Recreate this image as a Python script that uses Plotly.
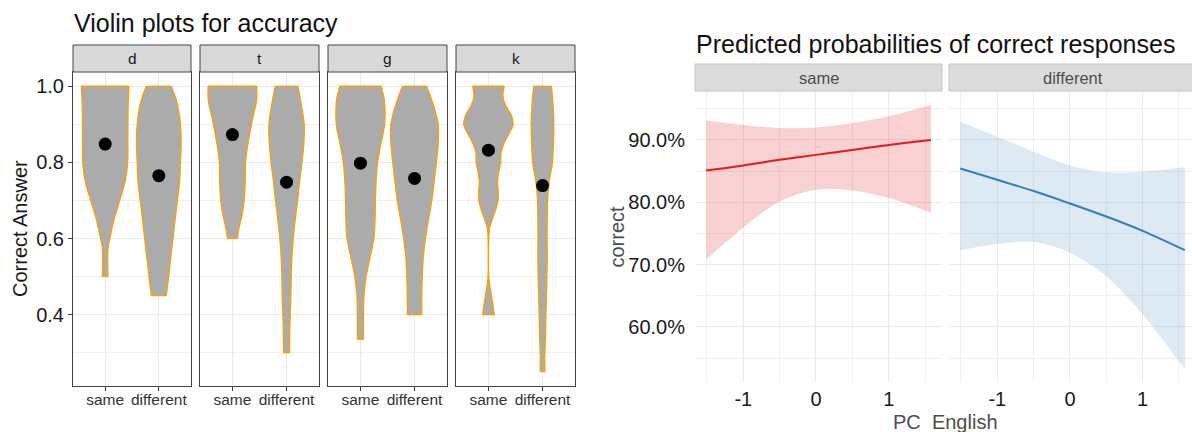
import plotly.graph_objects as go

W, H = 1192, 432

# ---------------- data: violin plots ----------------
phonemes = ["d", "t", "g", "k"]
conditions = ["same", "different"]

# accuracy levels and relative violin widths (density)
d_same_y = [1.0, 0.95, 0.925, 0.85, 0.8, 0.75, 0.7, 0.65, 0.6, 0.575, 0.5]
d_same_w = [71.5, 69, 68.5, 68, 67.5, 60, 43.5, 26.5, 14, 8.5, 8.5]
d_diff_y = [1.0, 0.96, 0.9, 0.85, 0.8, 0.75, 0.7, 0.65, 0.6, 0.55, 0.5, 0.45]
d_diff_w = [37.5, 54, 65, 67, 65, 62.5, 56, 49, 42.5, 36, 29.5, 22.5]
t_same_y = [1.0, 0.96, 0.925, 0.88, 0.84, 0.8, 0.75, 0.7, 0.66, 0.63, 0.6]
t_same_w = [72.5, 71.5, 62.5, 52.5, 44.5, 39, 38, 35, 28, 20, 15]
t_diff_y = [1.0, 0.96, 0.9, 0.85, 0.8, 0.75, 0.7, 0.65, 0.6, 0.55, 0.5, 0.45, 0.4, 0.35, 0.3]
t_diff_w = [34, 42.5, 52.5, 51.5, 46, 39, 33, 26, 20, 16, 14, 13, 11, 9.5, 9]
g_same_y = [1.0, 0.97, 0.95, 0.9, 0.85, 0.8, 0.75, 0.7, 0.65, 0.6, 0.55, 0.5, 0.45, 0.4, 0.335]
g_same_w = [61.5, 70, 72.5, 72, 61, 51, 46.5, 44.5, 43.5, 40, 28.5, 17, 10.5, 9, 9]
g_diff_y = [1.0, 0.95, 0.9, 0.85, 0.8, 0.75, 0.7, 0.65, 0.6, 0.55, 0.5, 0.45, 0.4]
g_diff_w = [36, 56.5, 70.5, 70.5, 65, 58.5, 51.5, 41.5, 32.5, 26, 23, 21.5, 21.5]
k_same_y = [1.0, 0.975, 0.95, 0.925, 0.9, 0.875, 0.85, 0.825, 0.8, 0.775, 0.75, 0.725,
            0.7, 0.675, 0.65, 0.625, 0.6, 0.5, 0.475, 0.45, 0.425, 0.4]
k_same_w = [47, 43, 51, 67.5, 73.5, 61, 46.5, 37.5, 36.5, 31, 27, 29,
            28.5, 21, 11, 3, 1, 1, 4, 9, 13.5, 17.5]
k_diff_y = [1.0, 0.95, 0.9, 0.85, 0.8, 0.75, 0.7, 0.65, 0.6, 0.55, 0.5, 0.45, 0.4, 0.35, 0.3, 0.25]
k_diff_w = [26.5, 31.5, 33.5, 32.5, 29.5, 20, 15, 14, 13.5, 14, 13, 11.5, 10, 9, 7, 7]

mean_same = [0.848, 0.873, 0.798, 0.832]
mean_diff = [0.765, 0.748, 0.758, 0.739]

violin_y = {"d": [d_same_y, d_diff_y], "t": [t_same_y, t_diff_y],
            "g": [g_same_y, g_diff_y], "k": [k_same_y, k_diff_y]}
violin_w = {"d": [d_same_w, d_diff_w], "t": [t_same_w, t_diff_w],
            "g": [g_same_w, g_diff_w], "k": [k_same_w, k_diff_w]}

# ---------------- data: predicted probabilities ----------------
pc_english = [-1.51, -1.0, -0.5, 0.0, 0.5, 1.0, 1.58]
same_fit = [0.851, 0.859, 0.868, 0.876, 0.884, 0.892, 0.900]
same_upper = [0.931, 0.924, 0.919, 0.920, 0.927, 0.938, 0.956]
same_lower = [0.708, 0.759, 0.801, 0.820, 0.819, 0.807, 0.783]
diff_fit = [0.854, 0.836, 0.818, 0.798, 0.777, 0.754, 0.723]
diff_upper = [0.929, 0.905, 0.881, 0.859, 0.848, 0.849, 0.856]
diff_lower = [0.723, 0.733, 0.736, 0.719, 0.681, 0.620, 0.532]
facet_labels = ["same", "different"]

# ---------------- layout helpers ----------------
FONT = "Liberation Sans, Arial, Helvetica, sans-serif"
VIOLIN_FILL = "#ababab"
VIOLIN_LINE = "#FFA000"


def px_x(p):
    return p / W


def px_y(p):
    return 1 - p / H


fig = go.Figure()

left_dom = [(73, 191), (200, 319), (328, 447), (456, 575)]
left_top, left_bot = 72, 386
strip_l_top = 45
max_w = 72.5
half_max = 0.45

layout = dict(
    width=W, height=H, margin=dict(l=0, r=0, t=0, b=0),
    paper_bgcolor="white", plot_bgcolor="white", showlegend=False,
    font=dict(family=FONT),
)
shapes = []
annotations = []

for i, ph in enumerate(phonemes):
    ax = "" if i == 0 else str(i + 1)
    xref, yref = "x" + ax, "y" + ax
    for j, cond in enumerate(conditions):
        c = j + 1
        ys = violin_y[ph][j]
        ws = [w / max_w * half_max for w in violin_w[ph][j]]
        side = dict(color=VIOLIN_LINE, width=1.3, shape="spline", smoothing=0.9)
        # left outline
        fig.add_trace(go.Scatter(
            x=[c - w for w in ws], y=ys, mode="lines", line=side,
            xaxis=xref, yaxis=yref, hoverinfo="skip"))
        # right outline, filled towards the left outline
        fig.add_trace(go.Scatter(
            x=[c + w for w in ws], y=ys, mode="lines", line=side,
            fill="tonextx", fillcolor=VIOLIN_FILL,
            xaxis=xref, yaxis=yref, hoverinfo="skip"))
        # flat top and bottom edges
        for e in (0, -1):
            fig.add_trace(go.Scatter(
                x=[c - ws[e], c + ws[e]], y=[ys[e], ys[e]], mode="lines",
                line=dict(color=VIOLIN_LINE, width=1.3),
                xaxis=xref, yaxis=yref, hoverinfo="skip"))
    fig.add_trace(go.Scatter(
        x=[1, 2], y=[mean_same[i], mean_diff[i]], mode="markers",
        marker=dict(color="black", size=13), xaxis=xref, yaxis=yref))
    x0, x1 = left_dom[i]
    layout["xaxis" + ax] = dict(
        domain=[px_x(x0), px_x(x1)], range=[0.4, 2.6], anchor=yref,
        tickvals=[1, 2], ticktext=conditions, showgrid=True, gridcolor="#ebebeb",
        gridwidth=1, zeroline=False, showline=True, linecolor="#444", linewidth=1,
        mirror=True, ticks="outside", ticklen=4, tickcolor="#444",
        ticklabelstandoff=-5,
        tickfont=dict(size=15.5, color="#333", family=FONT),
    )
    layout["yaxis" + ax] = dict(
        domain=[px_y(left_bot), px_y(left_top)], range=[0.2125, 1.0375], anchor=xref,
        tickvals=[0.4, 0.6, 0.8, 1.0], ticktext=["0.4", "0.6", "0.8", "1.0"],
        showticklabels=(i == 0), ticks="outside" if i == 0 else "", ticklen=4,
        tickcolor="#444", showgrid=True, gridcolor="#ebebeb", gridwidth=1,
        zeroline=False, showline=True, linecolor="#444", linewidth=1, mirror=True,
        minor=dict(tickvals=[0.3, 0.5, 0.7, 0.9], showgrid=True, gridcolor="#f0f0f0",
                   gridwidth=1, ticks=""),
        tickfont=dict(size=20, color="#1a1a1a", family=FONT),
    )
    shapes.append(dict(type="rect", xref="paper", yref="paper",
                       x0=px_x(x0), x1=px_x(x1), y0=px_y(left_top), y1=px_y(strip_l_top),
                       fillcolor="#d9d9d9", line=dict(color="#444", width=1), layer="above"))
    annotations.append(dict(text=ph, xref="paper", yref="paper",
                            x=px_x((x0 + x1) / 2), y=px_y((left_top + strip_l_top) / 2),
                            showarrow=False, xanchor="center", yanchor="middle",
                            font=dict(size=15.5, color="#1a1a1a", family=FONT)))

# ---------------- right: predicted probabilities ----------------
right_dom = [(695, 942), (949, 1192)]
right_ranges = [[-1.664, 1.733], [-1.664, 1.679]]
right_top, right_bot = 91, 382
strip_r_top = 64
fits = [same_fit, diff_fit]
uppers = [same_upper, diff_upper]
lowers = [same_lower, diff_lower]
line_cols = ["#E41A1C", "#377EB8"]
fill_cols = ["rgba(228,26,28,0.2)", "rgba(55,126,184,0.17)"]

for k in range(2):
    ax = str(5 + k)
    xref, yref = "x" + ax, "y" + ax
    fig.add_trace(go.Scatter(
        x=pc_english, y=lowers[k], mode="lines",
        line=dict(width=0, shape="spline", smoothing=0.9), xaxis=xref, yaxis=yref,
        hoverinfo="skip"))
    fig.add_trace(go.Scatter(
        x=pc_english, y=uppers[k], mode="lines", fill="tonexty", fillcolor=fill_cols[k],
        line=dict(width=0, shape="spline", smoothing=0.9), xaxis=xref, yaxis=yref,
        hoverinfo="skip"))
    fig.add_trace(go.Scatter(
        x=pc_english, y=fits[k], mode="lines",
        line=dict(color=line_cols[k], width=2, shape="spline"), xaxis=xref, yaxis=yref))
    x0, x1 = right_dom[k]
    layout["xaxis" + ax] = dict(
        domain=[px_x(x0), px_x(x1)], range=right_ranges[k], anchor=yref,
        tickvals=[-1, 0, 1], ticktext=["-1", "0", "1"], showgrid=True,
        gridcolor="#ebebeb", gridwidth=1, zeroline=False, showline=False,
        ticks="", ticklabelstandoff=3,
        minor=dict(tickvals=[-1.5, -0.5, 0.5, 1.5], showgrid=True,
                   gridcolor="#f0f0f0", gridwidth=1, ticks=""),
        tickfont=dict(size=20, color="#1a1a1a", family=FONT),
    )
    layout["yaxis" + ax] = dict(
        domain=[px_y(right_bot), px_y(right_top)], range=[0.5115, 0.9785], anchor=xref,
        tickvals=[0.6, 0.7, 0.8, 0.9], tickformat=".1%", showticklabels=(k == 0),
        ticks="outside" if k == 0 else "", ticklen=5, tickcolor="rgba(0,0,0,0)",
        showgrid=True, gridcolor="#ebebeb", gridwidth=1, zeroline=False, showline=False,
        minor=dict(tickvals=[0.55, 0.65, 0.75, 0.85, 0.95], showgrid=True,
                   gridcolor="#f0f0f0", gridwidth=1, ticks=""),
        tickfont=dict(size=20, color="#1a1a1a", family=FONT),
    )
    shapes.append(dict(type="rect", xref="paper", yref="paper",
                       x0=px_x(x0), x1=px_x(x1 + 6 if k == 1 else x1),
                       y0=px_y(right_top), y1=px_y(strip_r_top),
                       fillcolor="#dcdcdc", line=dict(color="#c4c4c4", width=1), layer="above"))
    annotations.append(dict(text=facet_labels[k], xref="paper", yref="paper",
                            x=px_x((x0 + (x0 + 247)) / 2), y=px_y((right_top + strip_r_top) / 2),
                            showarrow=False, xanchor="center", yanchor="middle",
                            font=dict(size=16.5, color="#4d4d4d", family=FONT)))

# titles and axis titles
annotations += [
    dict(text="Violin plots for accuracy", xref="paper", yref="paper",
         x=px_x(72), y=px_y(22.5), xanchor="left", yanchor="middle", showarrow=False,
         font=dict(size=25, color="#111", family=FONT)),
    dict(text="Predicted probabilities of correct responses", xref="paper", yref="paper",
         x=px_x(694), y=px_y(44), xanchor="left", yanchor="middle", showarrow=False,
         font=dict(size=25, color="#111", family=FONT)),
    dict(text="Correct Answer", xref="paper", yref="paper", textangle=-90,
         x=px_x(20), y=px_y(229), xanchor="center", yanchor="middle", showarrow=False,
         font=dict(size=20, color="#1a1a1a", family=FONT)),
    dict(text="correct", xref="paper", yref="paper", textangle=-90,
         x=px_x(616), y=px_y(236.5), xanchor="center", yanchor="middle", showarrow=False,
         font=dict(size=20, color="#4d4d4d", family=FONT)),
    dict(text="PC_English", xref="paper", yref="paper",
         x=px_x(945), y=px_y(422), xanchor="center", yanchor="middle", showarrow=False,
         font=dict(size=20, color="#4d4d4d", family=FONT)),
]

layout["shapes"] = shapes
layout["annotations"] = annotations
fig.update_layout(**layout)
fig.write_html("out.html")
